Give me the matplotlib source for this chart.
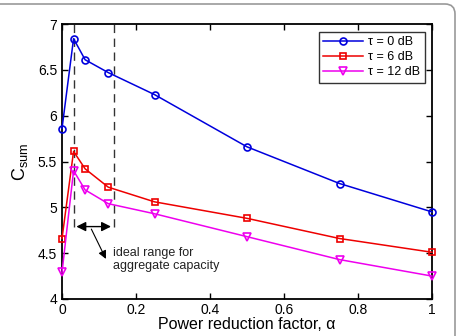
import matplotlib
matplotlib.use("Agg")
import matplotlib.pyplot as plt
from matplotlib.patches import FancyBboxPatch

plt.rcParams['font.family'] = ['Liberation Sans', 'DejaVu Sans']
plt.rcParams['mathtext.fontset'] = 'custom'
plt.rcParams['mathtext.rm'] = 'Liberation Sans'

alpha = [0, 0.03125, 0.0625, 0.125, 0.25, 0.5, 0.75, 1.0]
c_tau0 = [5.86, 6.84, 6.61, 6.47, 6.23, 5.66, 5.26, 4.95]
c_tau6 = [4.66, 5.61, 5.42, 5.22, 5.06, 4.88, 4.66, 4.51]
c_tau12 = [4.29, 5.40, 5.19, 5.04, 4.93, 4.68, 4.43, 4.25]
labels = ["τ = 0 dB", "τ = 6 dB", "τ = 12 dB"]

range_lo, range_hi = 0.03125, 0.14
arrow_y = 4.79

fig = plt.figure(figsize=(4.58, 3.36), dpi=100)
ax = fig.add_axes([62 / 458, 37 / 336, 370 / 458, 275 / 336])

ax.plot(alpha, c_tau0, color="#0000dd", marker="o", ms=5, mfc="none", mew=1.2, lw=1.1,
        label=labels[0], clip_on=False, zorder=3)
ax.plot(alpha, c_tau6, color="#ee0000", marker="s", ms=4.2, mfc="none", mew=1.2, lw=1.1,
        label=labels[1], clip_on=False, zorder=3)
ax.plot(alpha, c_tau12, color="#ee00ee", marker="v", ms=5.5, mfc="none", mew=1.2, lw=1.1,
        label=labels[2], clip_on=False, zorder=3)

# ideal range markers
ax.plot([range_lo, range_lo], [arrow_y, 7], ls=(0, (6, 4)), color="#333333", lw=1)
ax.plot([range_hi, range_hi], [arrow_y, 7], ls=(0, (6, 4)), color="#333333", lw=1)
ax.annotate("", xy=(range_lo, arrow_y), xytext=(range_hi, arrow_y),
            arrowprops=dict(arrowstyle="<|-|>", color="black", lw=1, mutation_scale=14))
ax.annotate("", xy=(0.122, 4.41), xytext=(0.076, arrow_y),
            arrowprops=dict(arrowstyle="-|>", color="black", lw=0.8, mutation_scale=12))
ax.text(0.138, 4.57, "ideal range for\naggregate capacity", fontsize=9,
        va="top", ha="left", color="#222222", linespacing=1.15)

ax.set_xlim(0, 1)
ax.set_ylim(4, 7)
ax.set_xticks([0, 0.2, 0.4, 0.6, 0.8, 1])
ax.set_xticklabels(["0", "0.2", "0.4", "0.6", "0.8", "1"])
ax.set_yticks([4, 4.5, 5, 5.5, 6, 6.5, 7])
ax.set_yticklabels(["4", "4.5", "5", "5.5", "6", "6.5", "7"])
ax.tick_params(direction="in", top=True, right=True, labelsize=10, length=4, width=1)
ax.tick_params(axis="x", pad=3)
for s in ax.spines.values():
    s.set_linewidth(1.3)

ax.set_xlabel("Power reduction factor, α", fontsize=11.5, labelpad=0)
ax.set_ylabel(r"C$_{\mathrm{sum}}$", fontsize=13, labelpad=6)

leg = ax.legend(loc="upper right", fontsize=9, frameon=True, fancybox=False,
                edgecolor="black", borderaxespad=0.6, handlelength=3.2,
                handletextpad=0.4, labelspacing=0.25, borderpad=0.35)
leg.get_frame().set_linewidth(1.0)

# outer rounded frame
frame = FancyBboxPatch((-40, -40), 495, 372, boxstyle="round,pad=0,rounding_size=10",
                       transform=None, fill=False, edgecolor="#999999", lw=1.2)
fig.patches.append(frame)

fig.savefig("out.png", dpi=100)
